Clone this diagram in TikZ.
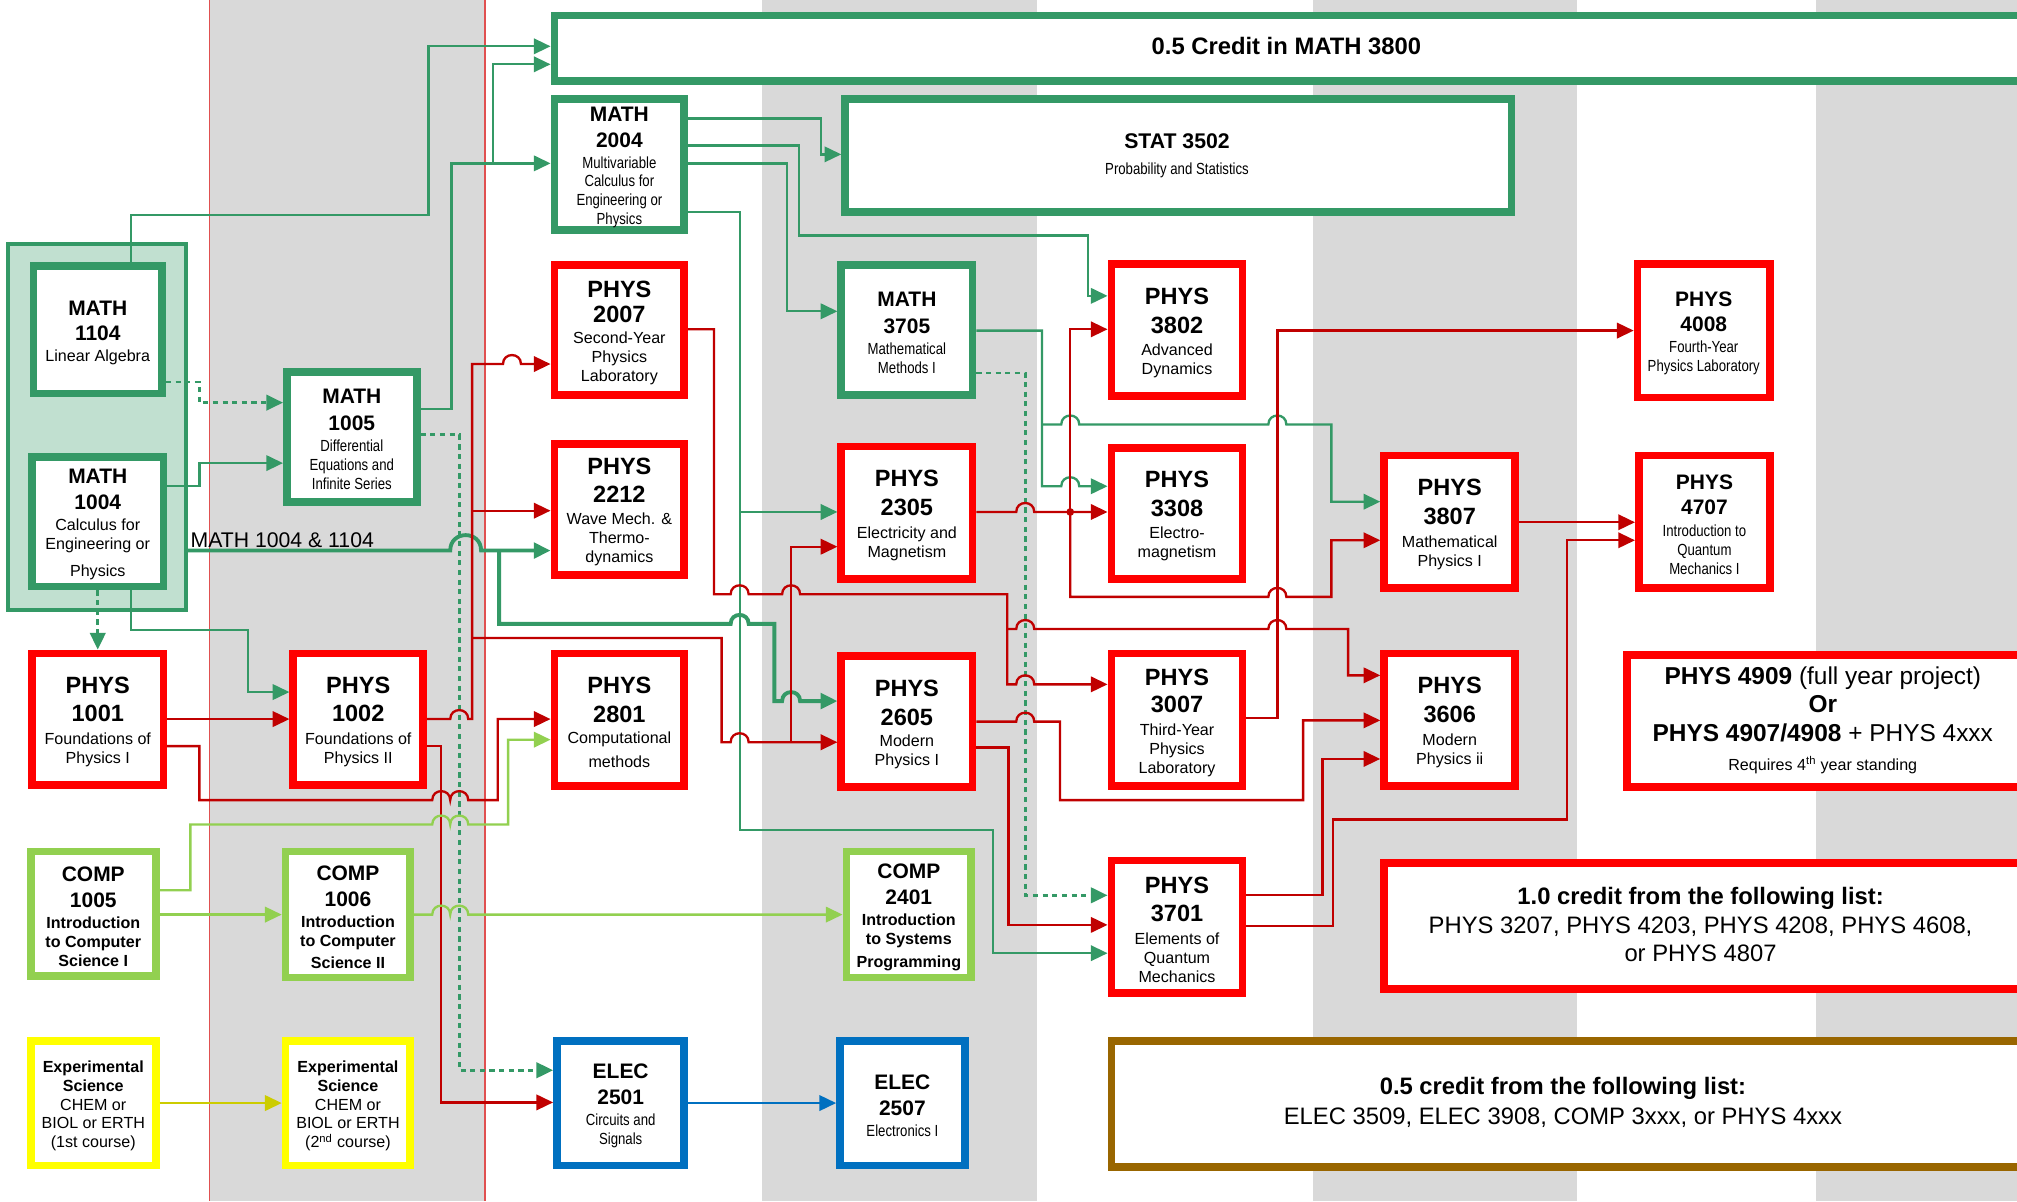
\documentclass[tikz,border=0pt]{standalone}
\usepackage{fontspec}
\setmainfont{Liberation Sans}
\newfontfamily\narrow[FakeStretch=0.82]{Liberation Sans}
\usetikzlibrary{arrows.meta}
\definecolor{gr}{RGB}{52,153,102}
\definecolor{grpfill}{RGB}{193,224,208}
\definecolor{rdb}{RGB}{255,0,0}
\definecolor{rdl}{RGB}{192,0,0}
\definecolor{lg}{RGB}{146,208,80}
\definecolor{yel}{RGB}{255,255,0}
\definecolor{yline}{RGB}{204,204,0}
\definecolor{blu}{RGB}{0,112,192}
\definecolor{brn}{RGB}{153,102,0}
\definecolor{stripe}{RGB}{217,217,217}
\definecolor{sline}{RGB}{224,80,80}
\newcommand\Cp{\normalfont\fontsize{18.3}{14.7}\selectfont\bfseries}
\newcommand\Cm{\normalfont\fontsize{16.3}{14.7}\selectfont\bfseries}
\newcommand\Hop[2]{-- ({#1-7},#2) .. controls ({#1-7},{#2-9.3}) and ({#1+7},{#2-9.3}) .. ({#1+7},#2)}
\newcommand\WHop[2]{-- ({#1-12},#2) .. controls ({#1-12},{#2-16}) and ({#1+12},{#2-16}) .. ({#1+12},#2)}
\newcommand\Bx[6]{\node[draw=#6, line width=6pt, fill=white, inner sep=0pt, minimum width={(#4)-(#2)-6}, minimum height={(#5)-(#3)-6}] (#1) at ({((#2)+(#4))/2},{((#3)+(#5))/2}) {};}
\begin{document}
\begin{tikzpicture}[x=1pt,y=-1pt,
  gl/.style={draw=gr, line width=1.8pt},
  glt/.style={draw=gr, line width=3pt},
  gd/.style={draw=gr, line width=2.2pt, dash pattern=on 4pt off 3.5pt},
  rl/.style={draw=rdl, line width=1.8pt},
  ll/.style={draw=lg, line width=1.8pt},
  yl/.style={draw=yline, line width=1.8pt},
  bl/.style={draw=blu, line width=1.8pt},
  ar/.style={-{Triangle[length=13pt,width=12pt]}},
  tx/.style={align=center, inner sep=0pt, yshift=-2.2pt, font=\fontsize{12.5}{14.7}\selectfont},
  txn/.style={align=center, inner sep=0pt, yshift=-2.2pt, font=\narrow\fontsize{12.5}{14.7}\selectfont},
  big/.style={anchor=base, inner sep=0pt, font=\fontsize{18.5}{20}\selectfont}]
\useasboundingbox (0,0) rectangle (1568,934);
\clip (0,0) rectangle (1568,934);
\fill[white] (0,0) rectangle (1568,934);
% stripes
\fill[stripe] (163,0) rectangle (377,934);
\fill[stripe] (592,0) rectangle (806,934);
\fill[stripe] (1021,0) rectangle (1226,934);
\fill[stripe] (1412,0) rectangle (1568,934);
\draw[sline, line width=1pt] (163,0) -- (163,934);
\draw[sline, line width=1pt] (377,0) -- (377,934);
% group
\node[draw=gr, line width=3pt, fill=grpfill, inner sep=0pt, minimum width=138pt, minimum height=285pt] (grp) at (75.5,332) {};
% boxes
\Bx{m1104}{23}{204}{129}{309}{gr}
\Bx{m1004}{22}{352}{130}{459}{gr}
\Bx{m1005}{220}{286}{327}{393}{gr}
\Bx{m3800}{428}{9}{1600}{66}{gr}
\Bx{m2004}{428}{74}{535}{182}{gr}
\Bx{stat}{654}{74}{1178}{168}{gr}
\Bx{p2007}{428}{203}{535}{310}{rdb}
\Bx{p2212}{428}{342}{535}{450}{rdb}
\Bx{p2801}{428}{505}{535}{614}{rdb}
\Bx{m3705}{651}{203}{759}{310}{gr}
\Bx{p2305}{651}{344}{759}{453}{rdb}
\Bx{p2605}{651}{507}{759}{615}{rdb}
\Bx{c2401}{655}{659}{758}{763}{lg}
\Bx{e2501}{430}{806}{535}{909}{blu}
\Bx{e2507}{650}{806}{753}{909}{blu}
\Bx{p3802}{861}{202}{969}{311}{rdb}
\Bx{p3308}{861}{345}{969}{453}{rdb}
\Bx{p3007}{861}{505}{969}{614}{rdb}
\Bx{p3701}{861}{666}{969}{775}{rdb}
\Bx{p3807}{1073}{351}{1181}{460}{rdb}
\Bx{p3606}{1073}{505}{1181}{614}{rdb}
\Bx{p4008}{1270}{202}{1379}{312}{rdb}
\Bx{p4707}{1271}{351}{1379}{460}{rdb}
\Bx{p4909}{1262}{506}{1600}{615}{rdb}
\Bx{cr10}{1073}{668}{1600}{772}{rdb}
\Bx{cr05}{861}{806}{1600}{910}{brn}
\Bx{p1001}{22}{505}{130}{613}{rdb}
\Bx{p1002}{225}{505}{332}{613}{rdb}
\Bx{c1005}{21}{659}{124}{762}{lg}
\Bx{c1006}{219}{659}{322}{763}{lg}
\Bx{x1}{21}{806}{124}{909}{yel}
\Bx{x2}{219}{806}{322}{909}{yel}
% green connectors
\draw[gl,ar] (102,0 |- m1104.north) -- (102,167) -- (333,167) -- (333,36) -- (m3800.west |- 0,36);
\draw[gl,ar] (m1005.east |- 0,318) -- (351,318) -- (351,127) -- (m2004.west |- 0,127);
\draw[gl,ar] (383,127) -- (383,50) -- (m3800.west |- 0,50);
\draw[gl,ar] (m1004.east |- 0,378) -- (155,378) -- (155,360) -- (m1005.west |- 0,360);
\draw[glt,ar] (grp.east |- 0,428) \WHop{362}{428} -- (p2212.west |- 0,428);
\draw[glt,ar] (388,428) -- (388,485) \Hop{575}{485} -- (602,485) -- (602,545) \Hop{615}{545} -- (p2605.west |- 0,545);
\draw[gl,ar] (102,0 |- m1004.south) -- (102,490) -- (193,490) -- (193,538) -- (p1002.west |- 0,538);
\draw[gd,ar] (m1004.south) -- (p1001.north);
\draw[gd,ar] (m1104.east |- 0,297) -- (155,297) -- (155,313) -- (m1005.west |- 0,313);
\draw[gd,ar] (m1005.east |- 0,338) -- (357,338) -- (357,832) -- (e2501.west |- 0,832);
\draw[gl,ar] (m2004.east |- 0,92) -- (638,92) -- (638,120) -- (stat.west |- 0,120);
\draw[gl,ar] (m2004.east |- 0,113) -- (621,113) -- (621,183) -- (846,183) -- (846,230) -- (p3802.west |- 0,230);
\draw[gl,ar] (m2004.east |- 0,127) -- (612,127) -- (612,242) -- (m3705.west |- 0,242);
\draw[gl,ar] (m2004.east |- 0,165) -- (575,165) -- (575,645) -- (772,645) -- (772,741) -- (p3701.west |- 0,741);
\draw[gl,ar] (575,398) -- (p2305.west |- 0,398);
\draw[gl,ar] (m3705.east |- 0,257) -- (810,257) -- (810,378) \Hop{832}{378} -- (p3308.west |- 0,378);
\draw[gl,ar] (810,330) \Hop{832}{330} \Hop{993}{330} -- (1035,330) -- (1035,390) -- (p3807.west |- 0,390);
\draw[gd,ar] (m3705.east |- 0,290) -- (797,290) -- (797,696) -- (p3701.west |- 0,696);
% red connectors
\draw[rl,ar] (p1001.east |- 0,559) -- (p1002.west |- 0,559);
\draw[rl,ar] (p1001.east |- 0,580) -- (155,580) -- (155,622) \Hop{343}{622} \Hop{357}{622} -- (387,622) -- (387,559) -- (p2801.west |- 0,559);
\draw[rl,ar] (p1002.east |- 0,559) \Hop{357}{559} -- (367,559) -- (367,283) \Hop{398}{283} -- (p2007.west |- 0,283);
\draw[rl,ar] (367,397) -- (p2212.west |- 0,397);
\draw[rl,ar] (367,496) -- (561,496) -- (561,577) \Hop{575}{577} -- (p2605.west |- 0,577);
\draw[rl,ar] (615,577) -- (615,425) -- (p2305.west |- 0,425);
\draw[rl,ar] (p1002.east |- 0,580) -- (343,580) -- (343,857) -- (e2501.west |- 0,857);
\draw[rl,ar] (p2007.east |- 0,256) -- (555,256) -- (555,462) \Hop{575}{462} \Hop{615}{462} -- (783,462) -- (783,532) \Hop{797}{532} -- (p3007.west |- 0,532);
\draw[rl,ar] (783,489) \Hop{797}{489} \Hop{993}{489} -- (1048,489) -- (1048,525) -- (p3606.west |- 0,525);
\draw[rl,ar] (p2305.east |- 0,398) \Hop{797}{398} -- (p3308.west |- 0,398);
\draw[rl,ar] (832,398) -- (832,256) -- (p3802.west |- 0,256);
\draw[rl,ar] (832,398) -- (832,464) \Hop{993}{464} -- (1035,464) -- (1035,420) -- (p3807.west |- 0,420);
\fill[rdl] (832,398) circle[radius=3pt];
\draw[rl,ar] (p3007.east |- 0,558) -- (993,558) -- (993,257) -- (p4008.west |- 0,257);
\draw[rl,ar] (p2605.east |- 0,561) \Hop{797}{561} -- (824,561) -- (824,622) -- (1013,622) -- (1013,560) -- (p3606.west |- 0,560);
\draw[rl,ar] (p2605.east |- 0,581) -- (784,581) -- (784,719) -- (p3701.west |- 0,719);
\draw[rl,ar] (p3701.east |- 0,696) -- (1028,696) -- (1028,590) -- (p3606.west |- 0,590);
\draw[rl,ar] (p3701.east |- 0,720) -- (1036,720) -- (1036,637) -- (1218,637) -- (1218,420) -- (p4707.west |- 0,420);
\draw[rl,ar] (p3807.east |- 0,406) -- (p4707.west |- 0,406);
% light green, yellow, blue
\draw[ll,ar] (c1005.east |- 0,711) -- (c1006.west |- 0,711);
\draw[ll,ar] (c1005.east |- 0,692) -- (148,692) -- (148,641) \Hop{343}{641} \Hop{357}{641} -- (395,641) -- (395,575) -- (p2801.west |- 0,575);
\draw[ll,ar] (c1006.east |- 0,711) \Hop{343}{711} \Hop{357}{711} -- (c2401.west |- 0,711);
\draw[yl,ar] (x1.east) -- (x2.west);
\draw[bl,ar] (e2501.east) -- (e2507.west);
% label
\node[anchor=base west, inner sep=0pt, font=\fontsize{16.5}{18}\selectfont] (lbl) at (148,425.7) {MATH 1004 \& 1104};
% box texts
\node[tx] (m1104t) at (m1104) {\Cm MATH\\[5pt]\Cm 1104\\[1pt]Linear Algebra};
\node[tx] (m1004t) at (m1004) {\Cm MATH\\[5pt]\Cm 1004\\[2pt]Calculus for\\Engineering or\\[6pt]Physics};
\node[txn] (m1005t) at (m1005) {\Cm MATH\\[6pt]\Cm 1005\\[2pt]Differential\\Equations and\\Infinite Series};
\node[txn] (m2004t) at (m2004) {\Cm MATH\\[5.5pt]\Cm 2004\\[1.5pt]Multivariable\\Calculus for\\Engineering or\\Physics};
\node[tx] (p2007t) at (p2007) {\Cp PHYS\\[4.8pt]\Cp 2007\\[1.3pt]Second-Year\\Physics\\Laboratory};
\node[tx] (p2212t) at (p2212) {\Cp PHYS\\[6.8pt]\Cp 2212\\[2.6pt]Wave Mech. \&\\Thermo-\\dynamics};
\node[tx] (p2801t) at (p2801) {\Cp PHYS\\[8pt]\Cp 2801\\[1.4pt]Computational\\[4pt]methods};
\node[txn] (m3705t) at (m3705) {\Cm MATH\\[6pt]\Cm 3705\\[1.7pt]Mathematical\\Methods I};
\node[tx] (p2305t) at (p2305) {\Cp PHYS\\[7.8pt]\Cp 2305\\[2.7pt]Electricity and\\Magnetism};
\node[tx] (p2605t) at (p2605) {\Cp PHYS\\[7.8pt]\Cp 2605\\[1.6pt]Modern\\Physics I};
\node[tx] (c2401t) at (c2401) {\Cm COMP\\[5.5pt]\Cm 2401\\[1.4pt]\bfseries Introduction\\\bfseries to Systems\\[3pt]\bfseries Programming};
\node[txn] (e2501t) at (e2501) {\Cm ELEC\\[5.3pt]\Cm 2501\\[1.6pt]Circuits and\\Signals};
\node[txn] (e2507t) at (e2507) {\Cm ELEC\\[6pt]\Cm 2507\\[1.6pt]Electronics I};
\node[tx] (p3802t) at (p3802) {\Cp PHYS\\[7.8pt]\Cp 3802\\[2.7pt]Advanced\\Dynamics};
\node[tx] (p3308t) at (p3308) {\Cp PHYS\\[7.8pt]\Cp 3308\\[2.7pt]Electro-\\magnetism};
\node[tx] (p3007t) at (p3007) {\Cp PHYS\\[6.8pt]\Cp 3007\\[2.7pt]Third-Year\\Physics\\Laboratory};
\node[tx] (p3701t) at (p3701) {\Cp PHYS\\[7.3pt]\Cp 3701\\[2.9pt]Elements of\\Quantum\\Mechanics};
\node[tx] (p3807t) at (p3807) {\Cp PHYS\\[8pt]\Cp 3807\\[3.5pt]Mathematical\\Physics I};
\node[tx] (p3606t) at (p3606) {\Cp PHYS\\[7.8pt]\Cp 3606\\[2.9pt]Modern\\Physics ii};
\node[txn] (p4008t) at (p4008) {\Cm PHYS\\[5.2pt]\Cm 4008\\[1.7pt]Fourth-Year\\Physics Laboratory};
\node[txn] (p4707t) at (p4707) {\Cm PHYS\\[5.3pt]\Cm 4707\\[2pt]Introduction to\\Quantum\\Mechanics I};
\node[tx] (p1001t) at (p1001) {\Cp PHYS\\[7.3pt]\Cp 1001\\[2.7pt]Foundations of\\Physics I};
\node[tx] (p1002t) at (p1002) {\Cp PHYS\\[7.3pt]\Cp 1002\\[2.7pt]Foundations of\\Physics II};
\node[tx] (c1005t) at (c1005) {\Cm COMP\\[5.2pt]\Cm 1005\\[1.6pt]\bfseries Introduction\\\bfseries to Computer\\\bfseries Science I};
\node[tx] (c1006t) at (c1006) {\Cm COMP\\[5.5pt]\Cm 1006\\[1.4pt]\bfseries Introduction\\\bfseries to Computer\\[3pt]\bfseries Science II};
\node[tx] (x1t) at (x1) {\bfseries Experimental\\\bfseries Science\\CHEM or\\BIOL or ERTH\\(1st course)};
\node[tx] (x2t) at (x2) {\bfseries Experimental\\\bfseries Science\\CHEM or\\BIOL or ERTH\\(2\textsuperscript{nd} course)};
% big box texts
\node[big, font=\fontsize{18.5}{20}\selectfont\bfseries] (m3800t) at (1000,42.5) {0.5 Credit in MATH 3800};
\node[big, font=\fontsize{16.5}{18}\selectfont\bfseries] (statt1) at (915,115.5) {STAT 3502};
\node[big, font=\narrow\fontsize{12.5}{14}\selectfont] (statt2) at (915,136) {Probability and Statistics};
\node[big, font=\fontsize{19}{21}\selectfont] (p4909a) at (1417,532.5) {\textbf{PHYS 4909} (full year project)};
\node[big, font=\fontsize{19}{21}\selectfont\bfseries] (p4909b) at (1417,553.7) {Or};
\node[big, font=\fontsize{19}{21}\selectfont] (p4909c) at (1417,576.5) {\textbf{PHYS 4907/4908} + PHYS 4xxx};
\node[big, font=\fontsize{12.5}{14}\selectfont] (p4909d) at (1417,599) {Requires 4\textsuperscript{th} year standing};
\node[big, font=\fontsize{18.5}{20}\selectfont\bfseries] (cr10a) at (1322,703.5) {1.0 credit from the following list:};
\node[big] (cr10b) at (1322,725.5) {PHYS 3207, PHYS 4203, PHYS 4208, PHYS 4608,};
\node[big] (cr10c) at (1322,747.6) {or PHYS 4807};
\node[big, font=\fontsize{18.5}{20}\selectfont\bfseries] (cr05a) at (1215,851.2) {0.5 credit from the following list:};
\node[big] (cr05b) at (1215,873.8) {ELEC 3509, ELEC 3908, COMP 3xxx, or PHYS 4xxx};
\end{tikzpicture}
\end{document}
